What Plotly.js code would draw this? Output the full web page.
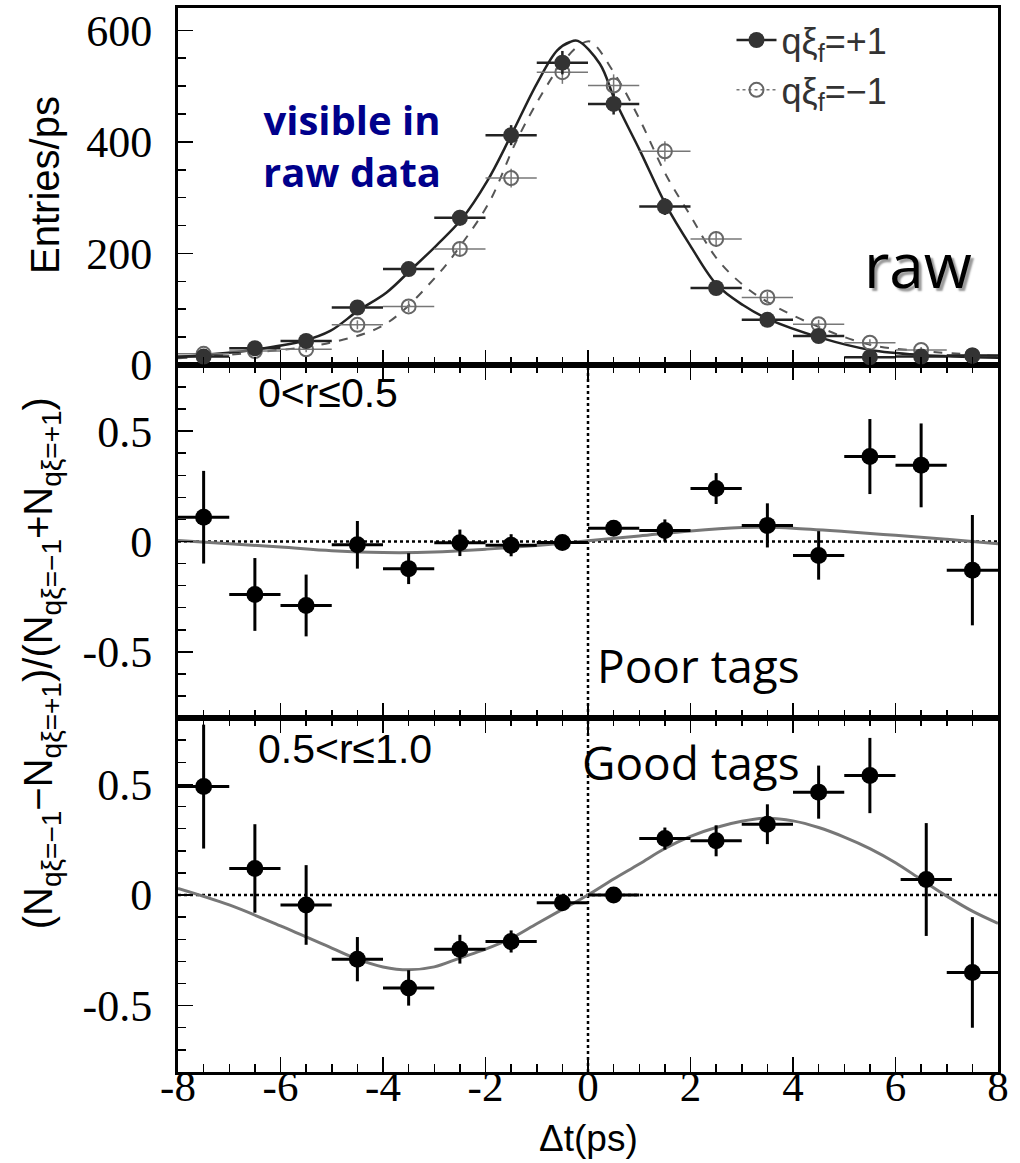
<!DOCTYPE html>
<html>
<head>
<meta charset="utf-8">
<script src="https://cdn.plot.ly/plotly-3.0.1.min.js"></script>
<style>
  html, body { margin: 0; padding: 0; background: #ffffff; }
  #chart { width: 1020px; height: 1163px; }
</style>
</head>
<body>
<div id="chart"></div>
<script>
// Δt bin centres (ps), 1 ps wide bins
const binCenters = [-7.5, -6.5, -5.5, -4.5, -3.5, -2.5, -1.5, -0.5, 0.5, 1.5, 2.5, 3.5, 4.5, 5.5, 6.5, 7.5];

// Raw Δt distributions (entries/ps)
const rawPlus     = [15, 30, 43, 103, 172, 264, 412, 542, 468, 284, 138, 81, 52, 14, 15, 17];
const rawPlusErr  = [4, 5, 6, 9, 11, 14, 18, 21, 19, 15, 10, 8, 6, 4, 4, 4];
const rawMinus    = [20, 25, 28, 72, 105, 208, 335, 525, 501, 383, 226, 121, 73, 40, 27, 17];
const rawMinusErr = [4, 5, 5, 8, 10, 13, 17, 21, 20, 18, 14, 10, 8, 6, 5, 4];

// Fitted curves for the raw distributions
const fitPlusT  = [-8, -7.5, -6.55, -5.56, -5.03, -4.49, -3.93, -3.44, -2.95, -2.46, -1.97, -1.52, -1.0, -0.6, -0.35, -0.2, 0.23, 0.53, 1.02, 1.52, 1.99, 2.52, 3.03, 3.52, 4.53, 5.51, 6.52, 8];
const fitPlusY  = [14, 18, 27, 43, 61, 97, 130, 172, 215, 262, 329, 408, 504, 564, 579, 581, 540, 474, 383, 287, 215, 143, 107, 82, 49, 27, 18, 13];
const fitMinusT = [-8, -6.55, -5.03, -3.96, -2.95, -2.44, -1.92, -1.4, -0.88, -0.49, -0.17, 0.04, 0.5, 1.02, 1.52, 1.99, 2.52, 3.03, 3.52, 4.53, 5.51, 6.52, 8];
const fitMinusY = [12, 22, 40, 73, 160, 220, 293, 401, 489, 543, 573, 580, 525, 438, 341, 269, 190, 143, 112, 67, 36, 25, 16];

// Asymmetry, 0 < r <= 0.5
const poorAsym    = [0.11, -0.24, -0.29, -0.015, -0.123, -0.006, -0.017, -0.005, 0.06, 0.05, 0.24, 0.073, -0.063, 0.385, 0.345, -0.13];
const poorAsymErr = [0.21, 0.165, 0.14, 0.108, 0.07, 0.06, 0.05, 0.03, 0.03, 0.05, 0.07, 0.1, 0.11, 0.17, 0.19, 0.25];
const poorFitT = [-8, -7, -6, -5, -4, -3, -2, -1, 0, 1, 2, 3, 3.5, 4, 5, 6, 7, 8];
const poorFitY = [0.005, -0.01, -0.025, -0.042, -0.05, -0.048, -0.035, -0.018, 0.003, 0.025, 0.048, 0.063, 0.064, 0.06, 0.045, 0.028, 0.01, -0.01];

// Asymmetry, 0.5 < r <= 1.0
const goodT       = [-7.5, -6.5, -5.5, -4.5, -3.5, -2.5, -1.5, -0.5, 0.5, 1.5, 2.5, 3.5, 4.5, 5.5, 6.6, 7.5];
const goodAsym    = [0.49, 0.12, -0.045, -0.29, -0.42, -0.245, -0.21, -0.035, 0.0, 0.255, 0.245, 0.32, 0.465, 0.54, 0.07, -0.35];
const goodAsymErr = [0.28, 0.2, 0.18, 0.1, 0.08, 0.065, 0.05, 0.035, 0.03, 0.05, 0.07, 0.09, 0.12, 0.17, 0.255, 0.25];
const goodFitT = [-8, -7, -6, -5, -4.5, -4, -3.5, -3, -2.5, -2, -1.5, -1, -0.5, 0, 0.5, 1, 1.5, 2, 2.5, 3, 3.5, 4, 4.5, 5, 5.5, 6, 6.5, 7, 7.5, 8];
const goodFitY = [0.03, -0.045, -0.14, -0.24, -0.29, -0.325, -0.338, -0.325, -0.285, -0.245, -0.196, -0.13, -0.065, 0.0, 0.072, 0.14, 0.21, 0.265, 0.305, 0.333, 0.347, 0.335, 0.305, 0.262, 0.21, 0.146, 0.07, -0.005, -0.073, -0.128];

// Axis tick labels
const xTickVals = [-8, -6, -4, -2, 0, 2, 4, 6, 8];
const xTickText = ['-8', '-6', '-4', '-2', '0', '2', '4', '6', '8'];
const rawTickVals = [0, 200, 400, 600];
const rawTickText = ['0', '200', '400', '600'];
const asymTickVals = [-0.5, 0, 0.5];
const asymTickText = ['-0.5', '0', '0.5'];

const serif = 'Liberation Serif, Times New Roman, serif';
const sans = 'Liberation Sans, Arial, sans-serif';
const handFont = 'Open Sans, DejaVu Sans, sans-serif';

const traces = [
  // raw distributions
  {
    x: fitMinusT, y: fitMinusY, xaxis: 'x3', yaxis: 'y3', mode: 'lines',
    line: { color: '#555555', width: 2, dash: 'dash', shape: 'spline' },
    hoverinfo: 'skip', showlegend: false
  },
  {
    x: fitPlusT, y: fitPlusY, xaxis: 'x3', yaxis: 'y3', mode: 'lines',
    line: { color: '#222222', width: 2.5, shape: 'spline' },
    hoverinfo: 'skip', showlegend: false
  },
  {
    x: binCenters, y: rawMinus, xaxis: 'x3', yaxis: 'y3', mode: 'markers',
    marker: { symbol: 'circle-open', size: 14, color: '#666666', line: { width: 2, color: '#666666' } },
    error_x: { type: 'constant', value: 0.5, color: '#777777', thickness: 1.5, width: 0 },
    error_y: { type: 'data', array: rawMinusErr, color: '#777777', thickness: 1.5, width: 0 },
    showlegend: false
  },
  {
    x: binCenters, y: rawPlus, xaxis: 'x3', yaxis: 'y3', mode: 'markers',
    marker: { symbol: 'circle', size: 16, color: '#333333' },
    error_x: { type: 'constant', value: 0.5, color: '#222222', thickness: 2.5, width: 0 },
    error_y: { type: 'data', array: rawPlusErr, color: '#222222', thickness: 2.5, width: 0 },
    showlegend: false
  },
  // legend entries
  {
    x: [null], y: [null], xaxis: 'x3', yaxis: 'y3', mode: 'lines+markers',
    name: 'qξ<sub>f</sub>=+1',
    marker: { symbol: 'circle', size: 16, color: '#333333' },
    line: { color: '#222222', width: 2.5 }
  },
  {
    x: [null], y: [null], xaxis: 'x3', yaxis: 'y3', mode: 'lines+markers',
    name: 'qξ<sub>f</sub>=−1',
    marker: { symbol: 'circle-open', size: 14, color: '#666666', line: { width: 2, color: '#666666' } },
    line: { color: '#777777', width: 1.5, dash: 'dot' }
  },
  // poor tags
  {
    x: poorFitT, y: poorFitY, xaxis: 'x2', yaxis: 'y2', mode: 'lines',
    line: { color: '#777777', width: 3, shape: 'spline' },
    hoverinfo: 'skip', showlegend: false
  },
  {
    x: binCenters, y: poorAsym, xaxis: 'x2', yaxis: 'y2', mode: 'markers',
    marker: { symbol: 'circle', size: 17, color: '#000000' },
    error_x: { type: 'constant', value: 0.5, color: '#000000', thickness: 3, width: 0 },
    error_y: { type: 'data', array: poorAsymErr, color: '#000000', thickness: 3, width: 0 },
    showlegend: false
  },
  // good tags
  {
    x: goodFitT, y: goodFitY, xaxis: 'x', yaxis: 'y', mode: 'lines',
    line: { color: '#777777', width: 3, shape: 'spline' },
    hoverinfo: 'skip', showlegend: false
  },
  {
    x: goodT, y: goodAsym, xaxis: 'x', yaxis: 'y', mode: 'markers',
    marker: { symbol: 'circle', size: 17, color: '#000000' },
    error_x: { type: 'constant', value: 0.5, color: '#000000', thickness: 3, width: 0 },
    error_y: { type: 'data', array: goodAsymErr, color: '#000000', thickness: 3, width: 0 },
    showlegend: false
  }
];

function xAxis(extra) {
  return Object.assign({
    range: [-8, 8], showgrid: false, zeroline: false,
    showline: true, linecolor: '#000000', linewidth: 3, mirror: 'ticks',
    ticks: 'inside', ticklen: 15, tickwidth: 1.5, tickcolor: '#000000',
    tickmode: 'array', tickvals: xTickVals, ticktext: xTickText,
    minor: { dtick: 0.5, ticks: 'inside', ticklen: 8, tickwidth: 1.5, tickcolor: '#000000' },
    tickfont: { family: serif, size: 43, color: '#000000' }
  }, extra);
}

function yAxis(extra) {
  return Object.assign({
    showgrid: false, zeroline: false,
    showline: true, linecolor: '#000000', linewidth: 3, mirror: true,
    ticks: 'inside', ticklen: 15, tickwidth: 1.5, tickcolor: '#000000',
    tickmode: 'array',
    tickfont: { family: serif, size: 44, color: '#000000' },
    ticklabelstandoff: 14
  }, extra);
}

const layout = {
  width: 1020, height: 1163,
  margin: { l: 178, r: 22, t: 8, b: 91 },
  paper_bgcolor: '#ffffff', plot_bgcolor: '#ffffff',
  showlegend: true,
  legend: {
    x: 0.675, y: 0.998, xanchor: 'left', yanchor: 'top',
    bgcolor: 'rgba(0,0,0,0)', borderwidth: 0,
    font: { family: sans, size: 36, color: '#333333' },
    tracegroupgap: 0, itemwidth: 40
  },
  xaxis: xAxis({ anchor: 'y', domain: [0, 1], ticklabelstandoff: -26 }),
  xaxis2: xAxis({ anchor: 'y2', matches: 'x', showticklabels: false }),
  xaxis3: xAxis({ anchor: 'y3', matches: 'x', showticklabels: false, mirror: true }),
  yaxis: yAxis({ domain: [0, 0.3327], range: [-0.8, 0.8], tickvals: asymTickVals, ticktext: asymTickText,
    minor: { dtick: 0.1, ticks: 'inside', ticklen: 8, tickwidth: 1.5, tickcolor: '#000000' } }),
  yaxis2: yAxis({ domain: [0.3327, 0.6645], range: [-0.8, 0.8], tickvals: asymTickVals, ticktext: asymTickText,
    minor: { dtick: 0.1, ticks: 'inside', ticklen: 8, tickwidth: 1.5, tickcolor: '#000000' } }),
  yaxis3: yAxis({ domain: [0.6645, 1], range: [0, 640], tickvals: rawTickVals, ticktext: rawTickText,
    minor: { dtick: 50, ticks: 'inside', ticklen: 8, tickwidth: 1.5, tickcolor: '#000000' } }),
  shapes: [
    { type: 'line', xref: 'x2 domain', yref: 'y2', x0: 0, x1: 1, y0: 0, y1: 0,
      line: { color: '#000000', width: 2.5, dash: 'dot' }, layer: 'below' },
    { type: 'line', xref: 'x domain', yref: 'y', x0: 0, x1: 1, y0: 0, y1: 0,
      line: { color: '#000000', width: 2.5, dash: 'dot' }, layer: 'below' },
    { type: 'line', xref: 'x', yref: 'paper', x0: 0, x1: 0, y0: 0, y1: 0.6645,
      line: { color: '#000000', width: 2.5, dash: 'dot' }, layer: 'below' }
  ],
  annotations: [
    { xref: 'paper', yref: 'paper', x: -0.163, y: 0.834, text: 'Entries/ps', textangle: -90,
      showarrow: false, xanchor: 'center', yanchor: 'middle',
      font: { family: sans, size: 40, color: '#000000' } },
    { xref: 'paper', yref: 'paper', x: -0.166, y: 0.384,
      text: '(N<sub>qξ=−1</sub>−N<sub>qξ=+1</sub>)/(N<sub>qξ=−1</sub>+N<sub>qξ=+1</sub>)',
      textangle: -90, showarrow: false, xanchor: 'center', yanchor: 'middle',
      font: { family: sans, size: 40, color: '#000000' } },
    { xref: 'paper', yref: 'paper', x: 0.5, y: -0.0835, text: 'Δt(ps)',
      showarrow: false, xanchor: 'center', yanchor: 'bottom',
      font: { family: sans, size: 37, color: '#000000' } },
    { xref: 'paper', yref: 'paper', x: 0.212, y: 0.871, text: 'visible in<br>raw data',
      showarrow: false, xanchor: 'center', yanchor: 'middle', align: 'center',
      font: { family: handFont, size: 40, color: '#00008b', weight: 'bold' } },
    { xref: 'paper', yref: 'paper', x: 0.902, y: 0.759, text: 'raw',
      showarrow: false, xanchor: 'center', yanchor: 'middle',
      font: { family: handFont, size: 62, color: '#000000', shadow: '3px 3px 2px #999999' } },
    { xref: 'paper', yref: 'paper', x: 0.095, y: 0.638, text: '0<r≤0.5',
      showarrow: false, xanchor: 'left', yanchor: 'middle',
      font: { family: sans, size: 41, color: '#000000' } },
    { xref: 'paper', yref: 'paper', x: 0.095, y: 0.3036, text: '0.5<r≤1.0',
      showarrow: false, xanchor: 'left', yanchor: 'middle',
      font: { family: sans, size: 41, color: '#000000' } },
    { xref: 'paper', yref: 'paper', x: 0.5085, y: 0.3825, text: 'Poor tags',
      showarrow: false, xanchor: 'left', yanchor: 'middle',
      font: { family: handFont, size: 46, color: '#000000' } },
    { xref: 'paper', yref: 'paper', x: 0.49, y: 0.291, text: 'Good tags',
      showarrow: false, xanchor: 'left', yanchor: 'middle',
      font: { family: handFont, size: 46, color: '#000000' } }
  ]
};

Plotly.newPlot('chart', traces, layout, { displayModeBar: false, staticPlot: true });
</script>
</body>
</html>
